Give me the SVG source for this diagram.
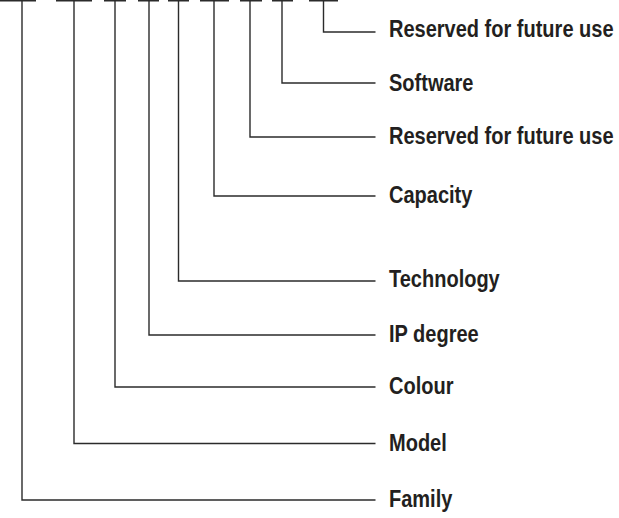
<svg xmlns="http://www.w3.org/2000/svg" width="619" height="518" viewBox="0 0 619 518">
<style>
.c{fill:none;stroke:#2b2b2b;stroke-width:1.4}
.b{fill:none;stroke:#2b2b2b;stroke-width:2}
.t{font-family:"Liberation Sans",Arial,sans-serif;font-weight:bold;font-size:23px;fill:#231f20}
</style>
<rect width="619" height="518" fill="#fff"/>
<g id="connectors">
<path class="b" d="M0,0.5H36M56,0.5H92M104,0.5H126M138,0.5H159M168,0.5H189M200,0.5H229M240,0.5H262M272,0.5H293M309,0.5H338"/>
<path class="c" d="M22,0V500H375.5"/>
<path class="c" d="M74,0V443.5H375.5"/>
<path class="c" d="M115,0V387H375.5"/>
<path class="c" d="M149,0V335H375.5"/>
<path class="c" d="M178.5,0V281H375.5"/>
<path class="c" d="M214,0V196H375.5"/>
<path class="c" d="M250,0V137H375.5"/>
<path class="c" d="M282,0V83H375.5"/>
<path class="c" d="M323.5,0V32H375.5"/>
</g>
<g id="n-reserved1"><text class="t" transform="translate(389,36.5) scale(0.87,1)">Reserved for future use</text></g>
<g id="n-software"><text class="t" transform="translate(389,91) scale(0.87,1)">Software</text></g>
<g id="n-reserved2"><text class="t" transform="translate(389,144) scale(0.87,1)">Reserved for future use</text></g>
<g id="n-capacity"><text class="t" transform="translate(389,202.5) scale(0.87,1)">Capacity</text></g>
<g id="n-technology"><text class="t" transform="translate(389,287) scale(0.87,1)">Technology</text></g>
<g id="n-ipdegree"><text class="t" transform="translate(389,342) scale(0.87,1)">IP degree</text></g>
<g id="n-colour"><text class="t" transform="translate(389,394) scale(0.87,1)">Colour</text></g>
<g id="n-model"><text class="t" transform="translate(389,451) scale(0.87,1)">Model</text></g>
<g id="n-family"><text class="t" transform="translate(389,507) scale(0.87,1)">Family</text></g>
</svg>
